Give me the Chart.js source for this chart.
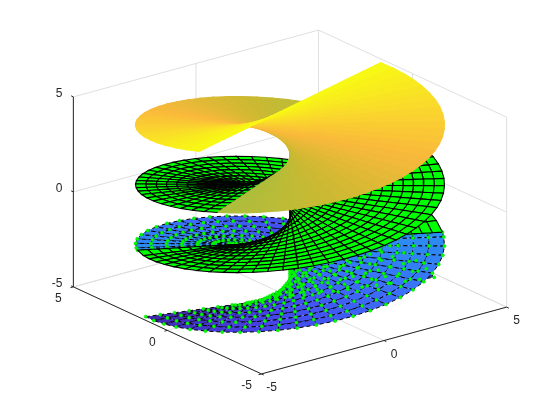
<!DOCTYPE html>
<html>
<head>
<meta charset="utf-8">
<style>
  html, body { margin: 0; background: #fff; }
  canvas { display: block; }
</style>
<script src="https://cdn.jsdelivr.net/npm/chart.js@4/dist/chart.umd.min.js"></script>
</head>
<body>
<canvas id="chart" width="560" height="420"></canvas>
<script>
// mesh of the surface
const meshU = [-5, -4.67, -4.33, -4, -3.67, -3.33, -3, -2.67, -2.33, -2, -1.67, -1.33, -1, -0.67, -0.33, 0,
  0.33, 0.67, 1, 1.33, 1.67, 2, 2.33, 2.67, 3, 3.33, 3.67, 4, 4.33, 4.67, 5];
const meshV = [-2.06, -1.9, -1.8, -1.7, -1.6, -1.5, -1.4, -1.3, -1.2, -1.1, -1, -0.9, -0.8, -0.7, -0.6, -0.5, -0.4,
  -0.3, -0.2, -0.1, 0, 0.1, 0.2, 0.3, 0.4, 0.5, 0.6, 0.7, 0.8, 0.9, 1, 1.1, 1.2, 1.3, 1.4, 1.5, 1.6, 1.7, 1.8,
  1.9, 2, 2.1, 2.2, 2.3, 2.4, 2.5, 2.6, 2.7, 2.8, 2.9, 3, 3.1, 3.2, 3.3, 3.4, 3.5, 3.6, 3.7, 3.8, 3.9, 4, 4.1,
  4.2, 4.3, 4.4, 4.5, 4.6, 4.7, 4.8, 4.9, 5];
// the lower band has a coarser mesh
const lowerU = [-5, -4.5, -4, -3.5, -3, -2.5, -2, -1.5, -1, -0.5, 0, 0.5, 1, 1.5, 2, 2.5, 3, 3.5, 4, 4.5, 5];
const lowerV = [-5, -4.875, -4.75, -4.625, -4.5, -4.375, -4.25, -4.125, -4, -3.875, -3.75, -3.625, -3.5, -3.375,
  -3.25, -3.125, -3, -2.875, -2.75, -2.625, -2.5, -2.375, -2.25, -2.125, -2.06];
const axisTicks = [-5, 0, 5];
const tickLabels = ['-5', '0', '5'];
const lowerSplit = -2.06;
const upperSplit = 2;
// colormap stops [z, r, g, b]
const colorStops = [
  [-5, 62, 38, 168], [-4, 70, 66, 232], [-3, 60, 110, 250], [-2, 40, 145, 240],
  [2, 170, 190, 60], [2.8, 205, 185, 50], [3.6, 250, 185, 60], [4.3, 250, 215, 45], [5, 248, 250, 20],
];

// view: az -37.5, el 30, stretched to the window
const az = -37.5 * Math.PI / 180;
const el = 30 * Math.PI / 180;
const depthDir = [Math.sin(az) * Math.cos(el), -Math.cos(az) * Math.cos(el), Math.sin(el)];

function project(x, y, z) {
  return {
    x: 290 + 30.9 * (x * Math.cos(az) + y * Math.sin(az)),
    y: 202 - 21.94 * (Math.sin(el) * (-x * Math.sin(az) + y * Math.cos(az)) + z * Math.cos(el)),
  };
}

function surfPoint(u, v) {
  return [u * Math.sin(v), -u * Math.cos(v), v];
}

function colorAt(z) {
  for (let i = 1; i < colorStops.length; i++) {
    if (z <= colorStops[i][0]) {
      const a = colorStops[i - 1];
      const b = colorStops[i];
      const t = Math.max(0, (z - a[0]) / (b[0] - a[0]));
      return `rgb(${[1, 2, 3].map((k) => Math.round(a[k] + (b[k] - a[k]) * t)).join(',')})`;
    }
  }
  return 'rgb(248,250,20)';
}

function lineSet(points, color, width) {
  return {
    data: points, showLine: true, fill: false, borderColor: color, borderWidth: width,
    pointRadius: 0, tension: 0,
  };
}

// far faces first
function buildFaces(us, vs, vFrom, vTo) {
  const faces = [];
  for (let i = 0; i < vs.length - 1; i++) {
    const v0 = vs[i];
    const v1 = vs[i + 1];
    if (v0 < vFrom - 1e-6 || v1 > vTo + 1e-6) continue;
    for (let j = 0; j < us.length - 1; j++) {
      const u0 = us[j];
      const u1 = us[j + 1];
      const corners = [[u0, v0], [u1, v0], [u1, v1], [u0, v1], [u0, v0]].map(([u, v]) => surfPoint(u, v));
      const mid = surfPoint((u0 + u1) / 2, (v0 + v1) / 2);
      faces.push({
        depth: mid[0] * depthDir[0] + mid[1] * depthDir[1] + mid[2] * depthDir[2],
        z: mid[2],
        points: corners.map((c) => project(c[0], c[1], c[2])),
      });
    }
  }
  return faces.sort((a, b) => a.depth - b.depth);
}

function frameSets() {
  const grid = '#dfdfdf';
  const axis = '#262626';
  const sets = [];
  const seg = (a, b, c, w) => sets.push(lineSet([project(...a), project(...b)], c, w));
  axisTicks.forEach((t) => {
    seg([t, -5, -5], [t, 5, -5], grid, 1);
    seg([-5, t, -5], [5, t, -5], grid, 1);
    seg([5, t, -5], [5, t, 5], grid, 1);
    seg([5, -5, t], [5, 5, t], grid, 1);
    seg([t, 5, -5], [t, 5, 5], grid, 1);
    seg([-5, 5, t], [5, 5, t], grid, 1);
  });
  seg([-5, -5, -5], [5, -5, -5], axis, 1);
  seg([-5, -5, -5], [-5, 5, -5], axis, 1);
  seg([-5, 5, -5], [-5, 5, 5], axis, 1);
  axisTicks.forEach((t) => {
    seg([t, -5, -5], [t, -5.12, -5], axis, 1);
    seg([-5, t, -5], [-5.12, t, -5], axis, 1);
    seg([-5, 5, t], [-5, 5.12, t], axis, 1);
  });
  return sets;
}

const datasets = [];
frameSets().forEach((s) => datasets.push(s));

buildFaces(lowerU, lowerV, -5, lowerSplit).forEach((f) => {
  datasets.push({
    data: f.points, showLine: true, fill: 'shape', backgroundColor: colorAt(f.z),
    borderColor: '#000', borderWidth: 1, borderDash: [4, 3], pointRadius: 0, tension: 0,
  });
});

const markers = [];
lowerV.forEach((v) => {
  lowerU.forEach((u) => {
    const p = surfPoint(u, v);
    markers.push(project(p[0], p[1], p[2]));
  });
});
datasets.push({
  data: markers, showLine: false, pointRadius: 1.6, pointBackgroundColor: '#00ff00',
  pointBorderColor: '#00e000', pointBorderWidth: 0.5,
});

buildFaces(meshU, meshV, lowerSplit, upperSplit).forEach((f) => {
  datasets.push({
    data: f.points, showLine: true, fill: 'shape', backgroundColor: '#00ff00',
    borderColor: '#000', borderWidth: 1.1, pointRadius: 0, tension: 0,
  });
});

buildFaces(meshU, meshV, upperSplit, 5).forEach((f) => {
  const c = colorAt(f.z);
  datasets.push({
    data: f.points, showLine: true, fill: 'shape', backgroundColor: c,
    borderColor: c, borderWidth: 1.2, pointRadius: 0, tension: 0,
  });
});

// first dataset is painted last, so put them in order
datasets.forEach((d, i) => { d.order = datasets.length - i; });

const axisText = {
  id: 'axisText',
  afterDraw(chart) {
    const { ctx, scales } = chart;
    ctx.save();
    ctx.font = "12px 'Liberation Sans', Arial, sans-serif";
    ctx.fillStyle = '#262626';
    ctx.textBaseline = 'middle';
    const put = (text, p, dx, dy, align) => {
      ctx.textAlign = align;
      ctx.fillText(text, scales.x.getPixelForValue(p.x) + dx, scales.y.getPixelForValue(p.y) + dy);
    };
    axisTicks.forEach((t, i) => {
      put(tickLabels[i], project(t, -5, -5), 10, 14, 'center');
      put(tickLabels[i], project(-5, t, -5), -15, 12, 'center');
      put(tickLabels[i], project(-5, 5, t), -11, -3, 'right');
    });
    ctx.restore();
  },
};

new Chart(document.getElementById('chart'), {
  type: 'scatter',
  data: { datasets },
  options: {
    responsive: false,
    animation: false,
    events: [],
    layout: { padding: 0, autoPadding: false },
    plugins: { legend: { display: false }, tooltip: { enabled: false } },
    scales: {
      x: { display: false, min: 0, max: 560 },
      y: { display: false, min: 0, max: 420, reverse: true },
    },
  },
  plugins: [axisText],
});
</script>
</body>
</html>
